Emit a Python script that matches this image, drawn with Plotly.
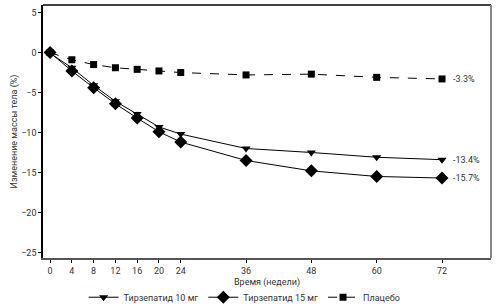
import plotly.graph_objects as go

weeks = [0, 4, 8, 12, 16, 20, 24, 36, 48, 60, 72]
tirz10 = [-0.1, -1.9, -4.1, -6.1, -7.7, -9.3, -10.2, -12.0, -12.5, -13.1, -13.4]
tirz15 = [0.0, -2.3, -4.4, -6.4, -8.2, -9.9, -11.2, -13.5, -14.8, -15.5, -15.7]
placebo = [0.0, -0.9, -1.5, -1.9, -2.1, -2.3, -2.5, -2.8, -2.7, -3.1, -3.3]
names = ["Тирзепатид 10 мг", "Тирзепатид 15 мг", "Плацебо"]
end_labels = ["-13.4%", "-15.7%", "-3.3%"]
x_ticks = [0, 4, 8, 12, 16, 20, 24, 36, 48, 60, 72]
y_ticks = [5, 0, -5, -10, -15, -20, -25]

fig = go.Figure()
fig.add_trace(go.Scatter(x=weeks, y=tirz10, name=names[0], mode="lines+markers",
                         line=dict(color="black", width=1),
                         marker=dict(symbol="triangle-down", size=8, color="black")))
fig.add_trace(go.Scatter(x=weeks, y=tirz15, name=names[1], mode="lines+markers",
                         line=dict(color="black", width=1),
                         marker=dict(symbol="diamond", size=10, color="black")))
fig.add_trace(go.Scatter(x=weeks, y=placebo, name=names[2], mode="lines+markers",
                         line=dict(color="black", width=1, dash="dash"),
                         marker=dict(symbol="square", size=7, color="black")))

for ys, lab in zip([tirz10, tirz15, placebo], end_labels):
    fig.add_annotation(x=weeks[-1], y=ys[-1], text=lab, showarrow=False,
                       xanchor="left", xshift=9, font=dict(size=9, color="#333"))

fig.add_shape(type="line", xref="paper", yref="paper", x0=0, x1=1, y0=1, y1=1,
              line=dict(color="black", width=1.5))
fig.add_shape(type="line", xref="paper", yref="paper", x0=1, x1=1, y0=0, y1=1,
              line=dict(color="#888", width=2))

fig.update_layout(
    width=500, height=308,
    margin=dict(l=43, r=9, t=5, b=50, autoexpand=False),
    plot_bgcolor="white", paper_bgcolor="white",
    font=dict(family="Roboto", size=9, color="#333"),
    showlegend=True,
    legend=dict(orientation="h", x=0.45, xanchor="center", y=-0.155, yanchor="middle",
                font=dict(size=9, color="#333"), itemwidth=30),
    xaxis=dict(range=[-1.3, 81], tickvals=x_ticks, showgrid=False, zeroline=False,
               showline=True, linecolor="#555", linewidth=1.5, automargin=False,
               ticks="outside", ticklen=3, tickcolor="black",
               title=dict(text="Время (недели)", font=dict(size=9), standoff=4)),
    yaxis=dict(range=[-25.7, 5.95], tickvals=y_ticks, showgrid=False, zeroline=False,
               showline=True, linecolor="black", linewidth=1.5, automargin=False,
               ticks="outside", ticklen=3, tickcolor="black",
               title=dict(text="Изменение массы тела (%)", font=dict(size=9), standoff=2)),
)

fig.write_html("out.html")
